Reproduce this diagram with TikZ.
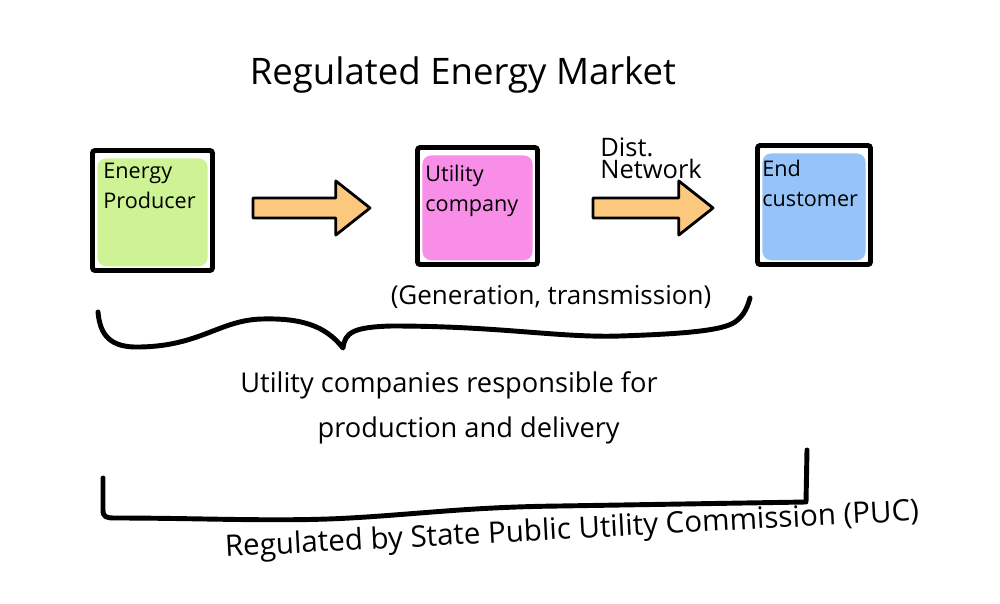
\documentclass[tikz,border=0pt]{standalone}
\usepackage{fontspec}
\setmainfont{Open Sans}
\usetikzlibrary{calc}
\definecolor{prodgreen}{RGB}{205,243,148}
\definecolor{utilpink}{RGB}{249,142,232}
\definecolor{custblue}{RGB}{150,196,248}
\definecolor{arroworange}{RGB}{251,200,125}
\begin{document}
\begin{tikzpicture}[x=0.02cm,y=-0.02cm,
  box/.style={draw=black, line width=2.8pt, fill=white, inner sep=0pt, rounded corners=1.5pt,
    path picture={\fill[#1, rounded corners=5pt]
      ([xshift=2.8pt,yshift=-4.5pt]path picture bounding box.north west) rectangle
      ([xshift=-2.8pt,yshift=2.4pt]path picture bounding box.south east);}},
  boxtext/.style={anchor=north west, inner sep=0pt, align=left,
    font=\fontsize{12.3}{17}\selectfont},
  note/.style={inner sep=0pt, align=left, font=\fontsize{15.5}{25.6}\selectfont},
  stroke/.style={draw=black, line width=2.8pt, line cap=round, line join=round},
  blockarrow/.style={draw=black, line width=1.6pt, fill=arroworange, line join=round,
    to path={let \p1=(\tikztostart), \p2=(\tikztotarget) in
      (\x1,\y1+5.7pt) -- (\x2-19.5pt,\y2+5.7pt) -- (\x2-19.5pt,\y2+15.4pt) -- (\x2,\y2)
      -- (\x2-19.5pt,\y2-15.4pt) -- (\x2-19.5pt,\y2-5.7pt) -- (\x1,\y1-5.7pt) -- cycle}}
]
\useasboundingbox (0,0) rectangle (1000,604);

% title
\node[inner sep=0pt, font=\fontsize{20.8}{24}\selectfont] (title) at (463,75) {Regulated Energy Market};

% boxes
\node[box=prodgreen, minimum width=2.4cm, minimum height=2.4cm] (ep) at (152.5,210.5) {};
\node[box=utilpink, minimum width=2.4cm, minimum height=2.34cm] (uc) at (477.5,206) {};
\node[box=custblue, minimum width=2.26cm, minimum height=2.38cm] (ec) at (814,205) {};

\node[boxtext] (eptext) at ([shift={(13,15)}]ep.north west) {Energy\\Producer};
\node[boxtext] (uctext) at ([shift={(10,20)}]uc.north west) {Utility\\company};
\node[boxtext] (ectext) at ([shift={(7,17)}]ec.north west) {End\\customer};

% arrows
\draw[blockarrow] ($(ep.east)+(38,-2.5)$) to ($(uc.west)+(-45,2)$);
\draw[blockarrow] ($(uc.east)+(53,2)$) to ($(ec.west)+(-42,3)$);
\node[boxtext, font=\fontsize{14.5}{13}\selectfont] (dist) at (600,137) {Dist.\\Network};

% generation note
\node[inner sep=0pt, font=\fontsize{14.8}{17}\selectfont] (gen) at (551,297) {(Generation, transmission)};

% curly brace
\coordinate (braceL) at (98,312);
\coordinate (braceR) at (750,298);
\draw[stroke] (braceL) .. controls (100,335) and (110,348) .. (140,347)
  .. controls (200,346) and (220,320) .. (262,319)
  .. controls (300,318) and (325,325) .. (343,348)
  .. controls (345,333) and (352,327) .. (392,326)
  .. controls (500,326) and (560,338) .. (620,336)
  .. controls (680,334) and (722,331) .. (735,322)
  .. controls (745,315) and (748,305) .. (braceR);

\node[note, anchor=north west] (resp) at (240,371) {Utility companies responsible for\\\hspace*{44pt}production and delivery};

% bracket
\coordinate (brackL) at (103,478);
\coordinate (brackR) at (807,450);
\draw[stroke] (brackL) -- (103,510) .. controls (103,517) and (106,518) .. (115,518)
  .. controls (200,518) and (280,522) .. (350,518)
  .. controls (420,514) and (470,507) .. (560,506)
  -- (806,502) -- (brackR);

\node[inner sep=0pt, rotate=3, font=\fontsize{16.8}{18}\selectfont] (puc) at (572,531) {Regulated by State Public Utility Commission (PUC)};
\end{tikzpicture}
\end{document}
